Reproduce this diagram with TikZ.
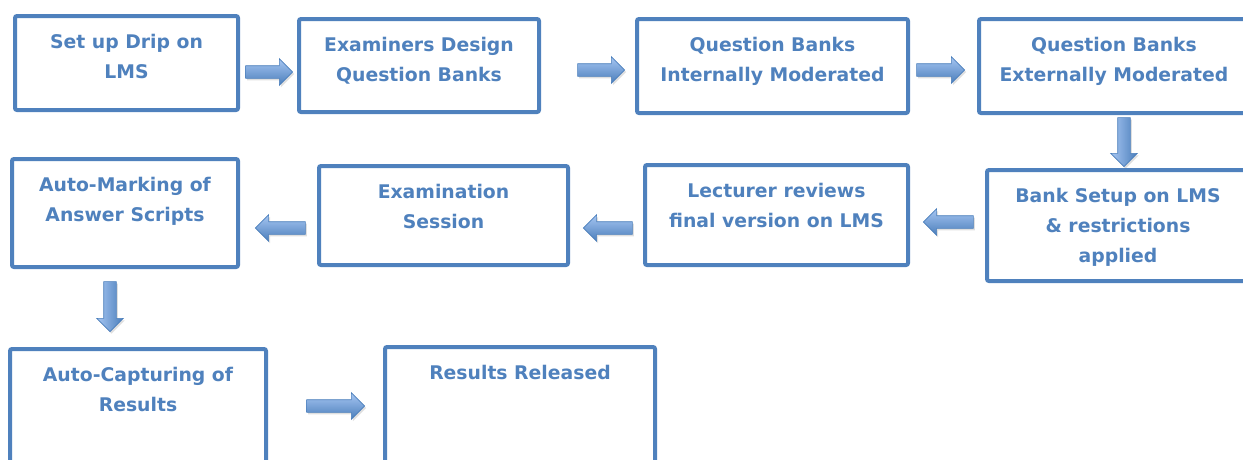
\documentclass[tikz,border=0pt]{standalone}
\usepackage{fontspec}
\setmainfont{DejaVu Sans}
\usetikzlibrary{shapes.arrows,shadows}
\definecolor{boxblue}{HTML}{4F81BD}
\definecolor{arrowlight}{HTML}{A7C6F2}
\definecolor{arrowdark}{HTML}{4A7EBB}
\tikzset{
	stage/.style={draw=boxblue, line width=4pt, rounded corners=2pt, fill=white, inner sep=0pt},
	stagetext/.style={anchor=north, align=center, text=boxblue, inner sep=0pt, font=\fontsize{18.8}{30}\selectfont\bfseries},
	flow/.style={single arrow, draw=arrowdark, line width=0.6pt, single arrow head extend=7pt, drop shadow={opacity=0.25, shadow xshift=1.5pt, shadow yshift=-2pt}},
	rflow/.style={flow, inner xsep=0pt, inner ysep=6pt, minimum height=#1, top color=arrowlight, bottom color=arrowdark},
	lflow/.style={flow, inner xsep=0pt, inner ysep=6pt, minimum height=#1, shape border rotate=180, top color=arrowlight, bottom color=arrowdark},
	dflow/.style={flow, inner xsep=6pt, inner ysep=0pt, minimum height=#1, shape border rotate=270, left color=arrowlight, right color=arrowdark}
}

\begin{document}
\begin{tikzpicture}[x=1pt, y=-1pt]
			%%%%% START %%%%%
			\useasboundingbox (0, 0) rectangle (1243, 459);
			
			% first row
			\node[stage, minimum width=223, minimum height=94] (b1) at (126.5, 63) {};
			\node[stage, minimum width=240, minimum height=93] (b2) at (419, 65.5) {};
			\node[stage, minimum width=271, minimum height=94] (b3) at (772.5, 66) {};
			\node[stage, minimum width=270, minimum height=94] (b4) at (1114, 66) {};
			
			% second row
			\node[stage, minimum width=262, minimum height=111] (b8) at (1118, 225.5) {};
			\node[stage, minimum width=263, minimum height=100] (b7) at (776.5, 215) {};
			\node[stage, minimum width=249, minimum height=99] (b6) at (443.5, 215.5) {};
			\node[stage, minimum width=226, minimum height=108] (b5) at (125, 213) {};
			
			% third row
			\node[stage, minimum width=256, minimum height=139] (b9) at (138, 418.5) {};
			\node[stage, minimum width=270, minimum height=141] (b10) at (520, 417.5) {};
			
			\node[stagetext] (t1) at ([yshift=-20pt]b1.north) {Set up Drip on\\LMS};
			\node[stagetext] (t2) at ([yshift=-20pt]b2.north) {Examiners Design\\Question Banks};
			\node[stagetext] (t3) at ([yshift=-20pt]b3.north) {Question Banks\\Internally Moderated};
			\node[stagetext] (t4) at ([yshift=-20pt]b4.north) {Question Banks\\Externally Moderated};
			\node[stagetext] (t8) at ([yshift=-20pt]b8.north) {Bank Setup on LMS\\\& restrictions\\applied};
			\node[stagetext] (t7) at ([yshift=-20pt]b7.north) {Lecturer reviews\\final version on LMS};
			\node[stagetext] (t6) at ([yshift=-20pt]b6.north) {Examination\\Session};
			\node[stagetext] (t5) at ([yshift=-20pt]b5.north) {Auto-Marking of\\Answer Scripts};
			\node[stagetext] (t9) at ([yshift=-20pt]b9.north) {Auto-Capturing of\\Results};
			\node[stagetext] (t10) at ([yshift=-20pt]b10.north) {Results Released};
			
			% block arrows
			\node[rflow=47] (a1) at (266, 72) {};
			\node[rflow=47] (a2) at (598, 70) {};
			\node[rflow=48] (a3) at (937.5, 70) {};
			\node[dflow=49] (a4) at (1124, 139) {};
			\node[lflow=50] (a5) at (951.5, 222) {};
			\node[lflow=49] (a6) at (611, 228) {};
			\node[lflow=50] (a7) at (283.5, 228) {};
			\node[dflow=50] (a8) at (110, 303.5) {};
			\node[rflow=58] (a9) at (332.5, 406) {};
			
			%%%%% END %%%%%
\end{tikzpicture}
\end{document}
